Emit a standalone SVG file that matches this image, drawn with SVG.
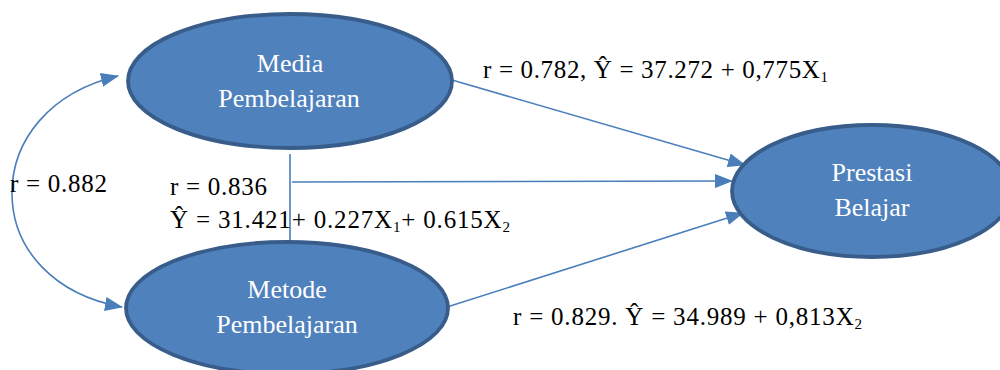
<svg xmlns="http://www.w3.org/2000/svg" width="1000" height="370" viewBox="0 0 1000 370">
<style>
.node{fill:#4F81BD;stroke:#385D8A;stroke-width:3.8}
.nt{font-family:"Liberation Serif","Times New Roman",serif;font-size:26px;fill:#FFFFFF;text-anchor:middle}
.lb{font-family:"Liberation Serif","Times New Roman",serif;font-size:25px;fill:#000000}
.sub{font-size:15px}
.c{fill:none;stroke:#4A7EBB;stroke-width:1.6}
</style>
<defs>
<marker id="ah" markerUnits="userSpaceOnUse" markerWidth="18" markerHeight="14" refX="17" refY="7" orient="auto-start-reverse">
<path d="M0,0 L18,7 L0,14 Z" fill="#4A7EBB"/>
</marker>
</defs>
<rect width="1000" height="370" fill="#FFFFFF"/>
<g id="connectors">
<path class="c" d="M118,76 C50,92 12,140 12,193 C12,250 55,295 122,307" marker-start="url(#ah)" marker-end="url(#ah)"/>
<line class="c" x1="452" y1="80" x2="745" y2="165" marker-end="url(#ah)"/>
<line class="c" x1="447" y1="307" x2="743" y2="213" marker-end="url(#ah)"/>
<line class="c" x1="290" y1="154" x2="290" y2="245"/>
<line class="c" x1="292" y1="182" x2="732" y2="181" marker-end="url(#ah)"/>
</g>
<g id="media">
<ellipse class="node" cx="290" cy="81" rx="162" ry="67"/>
<text class="nt" x="290" y="72">Media</text>
<text class="nt" x="289" y="107">Pembelajaran</text>
</g>
<g id="metode">
<ellipse class="node" cx="287" cy="308" rx="161" ry="66"/>
<text class="nt" x="287" y="298">Metode</text>
<text class="nt" x="287" y="333">Pembelajaran</text>
</g>
<g id="prestasi">
<ellipse class="node" cx="872" cy="191" rx="140" ry="66"/>
<text class="nt" x="872" y="181">Prestasi</text>
<text class="nt" x="872" y="216">Belajar</text>
</g>
<g id="labels">
<text class="lb" x="483" y="78" textLength="345" lengthAdjust="spacing">r = 0.782, Ŷ = 37.272 + 0,775X<tspan class="sub" dy="4">1</tspan></text>
<text class="lb" x="513" y="325" textLength="349" lengthAdjust="spacing">r = 0.829. Ŷ = 34.989 + 0,813X<tspan class="sub" dy="4">2</tspan></text>
<text class="lb" x="10" y="192" textLength="97" lengthAdjust="spacing">r = 0.882</text>
<text class="lb" x="170" y="195" textLength="97" lengthAdjust="spacing">r = 0.836</text>
<text class="lb" x="170" y="228" textLength="340" lengthAdjust="spacing">Ŷ = 31.421+ 0.227X<tspan class="sub" dy="4">1</tspan><tspan dy="-4">+ 0.615X</tspan><tspan class="sub" dy="4">2</tspan></text>
</g>
</svg>
